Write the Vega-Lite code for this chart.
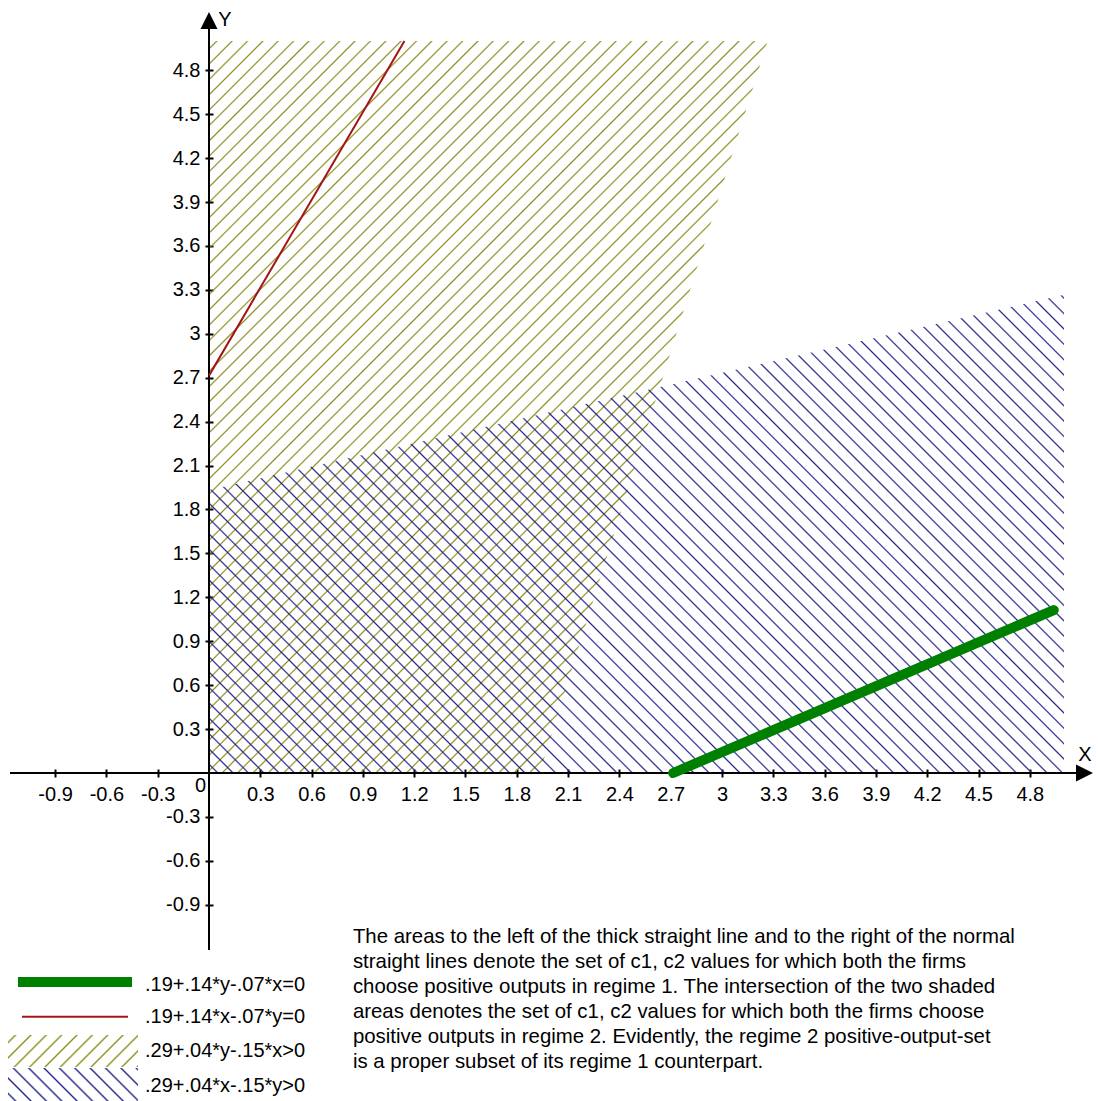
{"$schema":"https://vega.github.io/schema/vega-lite/v6.json","width":1098,"height":1101,"autosize":{"type":"none"},"padding":0,"background":"white",
"config":{"view":{"stroke":null},"font":"Liberation Sans","text":{"font":"Liberation Sans"}},
"encoding":{
"x":{"field":"x","type":"quantitative","scale":{"domain":[-1.22222,5.19883],"nice":false,"zero":false},"axis":{"orient":"bottom","offset":-332,"values":[-0.9,-0.6,-0.3,0.3,0.6,0.9,1.2,1.5,1.8,2.1,2.4,2.7,3,3.3,3.6,3.9,4.2,4.5,4.8],"labelExpr":"'' + datum.value","grid":false,"domain":false,"ticks":true,"tickSize":8,"tickWidth":2,"tickColor":"black","labelFont":"Liberation Sans","labelFontSize":20,"labelColor":"black","labelPadding":7,"labelOverlap":false,"labelFlush":false,"labelBound":false,"title":null}},
"y":{"field":"y","type":"quantitative","scale":{"domain":[-2.24044,5.28005],"nice":false,"zero":false},"axis":{"orient":"left","offset":-213,"values":[-0.9,-0.6,-0.3,0.3,0.6,0.9,1.2,1.5,1.8,2.1,2.4,2.7,3,3.3,3.6,3.9,4.2,4.5,4.8],"labelExpr":"'' + datum.value","grid":false,"domain":false,"ticks":true,"tickSize":8,"tickWidth":2,"tickColor":"black","labelFont":"Liberation Sans","labelFontSize":20,"labelColor":"black","labelPadding":5,"labelOverlap":false,"labelFlush":false,"labelBound":false,"title":null}}
},
"layer":[
{"data":{"values":[{"y":0,"x":0,"x2":1.93333},{"y":5,"x":0,"x2":3.26667}]},
"mark":{"type":"area","orient":"horizontal","opacity":1,"fill":{"gradient":"linear","x1":0,"y1":0,"x2":1.01198,"y2":1.32611,"stops":[
{"offset":0.004,"color":"#8f8f1f00"},{"offset":0.0051,"color":"#8f8f1f"},{"offset":0.0062,"color":"#8f8f1f00"},
{"offset":0.014,"color":"#8f8f1f00"},{"offset":0.0151,"color":"#8f8f1f"},{"offset":0.0162,"color":"#8f8f1f00"},
{"offset":0.024,"color":"#8f8f1f00"},{"offset":0.0251,"color":"#8f8f1f"},{"offset":0.0262,"color":"#8f8f1f00"},
{"offset":0.034,"color":"#8f8f1f00"},{"offset":0.0351,"color":"#8f8f1f"},{"offset":0.0362,"color":"#8f8f1f00"},
{"offset":0.044,"color":"#8f8f1f00"},{"offset":0.0451,"color":"#8f8f1f"},{"offset":0.0462,"color":"#8f8f1f00"},
{"offset":0.054,"color":"#8f8f1f00"},{"offset":0.0551,"color":"#8f8f1f"},{"offset":0.0562,"color":"#8f8f1f00"},
{"offset":0.064,"color":"#8f8f1f00"},{"offset":0.0651,"color":"#8f8f1f"},{"offset":0.0662,"color":"#8f8f1f00"},
{"offset":0.074,"color":"#8f8f1f00"},{"offset":0.0751,"color":"#8f8f1f"},{"offset":0.0762,"color":"#8f8f1f00"},
{"offset":0.084,"color":"#8f8f1f00"},{"offset":0.0851,"color":"#8f8f1f"},{"offset":0.0862,"color":"#8f8f1f00"},
{"offset":0.094,"color":"#8f8f1f00"},{"offset":0.0951,"color":"#8f8f1f"},{"offset":0.0962,"color":"#8f8f1f00"},
{"offset":0.104,"color":"#8f8f1f00"},{"offset":0.1051,"color":"#8f8f1f"},{"offset":0.1062,"color":"#8f8f1f00"},
{"offset":0.114,"color":"#8f8f1f00"},{"offset":0.1151,"color":"#8f8f1f"},{"offset":0.1162,"color":"#8f8f1f00"},
{"offset":0.124,"color":"#8f8f1f00"},{"offset":0.1251,"color":"#8f8f1f"},{"offset":0.1262,"color":"#8f8f1f00"},
{"offset":0.134,"color":"#8f8f1f00"},{"offset":0.1351,"color":"#8f8f1f"},{"offset":0.1362,"color":"#8f8f1f00"},
{"offset":0.144,"color":"#8f8f1f00"},{"offset":0.1451,"color":"#8f8f1f"},{"offset":0.1462,"color":"#8f8f1f00"},
{"offset":0.154,"color":"#8f8f1f00"},{"offset":0.1551,"color":"#8f8f1f"},{"offset":0.1562,"color":"#8f8f1f00"},
{"offset":0.164,"color":"#8f8f1f00"},{"offset":0.1651,"color":"#8f8f1f"},{"offset":0.1662,"color":"#8f8f1f00"},
{"offset":0.174,"color":"#8f8f1f00"},{"offset":0.1751,"color":"#8f8f1f"},{"offset":0.1762,"color":"#8f8f1f00"},
{"offset":0.184,"color":"#8f8f1f00"},{"offset":0.1851,"color":"#8f8f1f"},{"offset":0.1862,"color":"#8f8f1f00"},
{"offset":0.194,"color":"#8f8f1f00"},{"offset":0.1951,"color":"#8f8f1f"},{"offset":0.1962,"color":"#8f8f1f00"},
{"offset":0.204,"color":"#8f8f1f00"},{"offset":0.2051,"color":"#8f8f1f"},{"offset":0.2062,"color":"#8f8f1f00"},
{"offset":0.214,"color":"#8f8f1f00"},{"offset":0.2151,"color":"#8f8f1f"},{"offset":0.2162,"color":"#8f8f1f00"},
{"offset":0.224,"color":"#8f8f1f00"},{"offset":0.2251,"color":"#8f8f1f"},{"offset":0.2262,"color":"#8f8f1f00"},
{"offset":0.234,"color":"#8f8f1f00"},{"offset":0.2351,"color":"#8f8f1f"},{"offset":0.2362,"color":"#8f8f1f00"},
{"offset":0.244,"color":"#8f8f1f00"},{"offset":0.2451,"color":"#8f8f1f"},{"offset":0.2462,"color":"#8f8f1f00"},
{"offset":0.254,"color":"#8f8f1f00"},{"offset":0.2551,"color":"#8f8f1f"},{"offset":0.2562,"color":"#8f8f1f00"},
{"offset":0.264,"color":"#8f8f1f00"},{"offset":0.2651,"color":"#8f8f1f"},{"offset":0.2662,"color":"#8f8f1f00"},
{"offset":0.274,"color":"#8f8f1f00"},{"offset":0.2751,"color":"#8f8f1f"},{"offset":0.2762,"color":"#8f8f1f00"},
{"offset":0.284,"color":"#8f8f1f00"},{"offset":0.2851,"color":"#8f8f1f"},{"offset":0.2862,"color":"#8f8f1f00"},
{"offset":0.294,"color":"#8f8f1f00"},{"offset":0.2951,"color":"#8f8f1f"},{"offset":0.2962,"color":"#8f8f1f00"},
{"offset":0.304,"color":"#8f8f1f00"},{"offset":0.3051,"color":"#8f8f1f"},{"offset":0.3062,"color":"#8f8f1f00"},
{"offset":0.314,"color":"#8f8f1f00"},{"offset":0.3151,"color":"#8f8f1f"},{"offset":0.3162,"color":"#8f8f1f00"},
{"offset":0.324,"color":"#8f8f1f00"},{"offset":0.3251,"color":"#8f8f1f"},{"offset":0.3262,"color":"#8f8f1f00"},
{"offset":0.334,"color":"#8f8f1f00"},{"offset":0.3351,"color":"#8f8f1f"},{"offset":0.3362,"color":"#8f8f1f00"},
{"offset":0.344,"color":"#8f8f1f00"},{"offset":0.3451,"color":"#8f8f1f"},{"offset":0.3462,"color":"#8f8f1f00"},
{"offset":0.354,"color":"#8f8f1f00"},{"offset":0.3551,"color":"#8f8f1f"},{"offset":0.3562,"color":"#8f8f1f00"},
{"offset":0.364,"color":"#8f8f1f00"},{"offset":0.3651,"color":"#8f8f1f"},{"offset":0.3662,"color":"#8f8f1f00"},
{"offset":0.374,"color":"#8f8f1f00"},{"offset":0.3751,"color":"#8f8f1f"},{"offset":0.3762,"color":"#8f8f1f00"},
{"offset":0.384,"color":"#8f8f1f00"},{"offset":0.3851,"color":"#8f8f1f"},{"offset":0.3862,"color":"#8f8f1f00"},
{"offset":0.394,"color":"#8f8f1f00"},{"offset":0.3951,"color":"#8f8f1f"},{"offset":0.3962,"color":"#8f8f1f00"},
{"offset":0.404,"color":"#8f8f1f00"},{"offset":0.4051,"color":"#8f8f1f"},{"offset":0.4062,"color":"#8f8f1f00"},
{"offset":0.414,"color":"#8f8f1f00"},{"offset":0.4151,"color":"#8f8f1f"},{"offset":0.4162,"color":"#8f8f1f00"},
{"offset":0.424,"color":"#8f8f1f00"},{"offset":0.4251,"color":"#8f8f1f"},{"offset":0.4262,"color":"#8f8f1f00"},
{"offset":0.434,"color":"#8f8f1f00"},{"offset":0.4351,"color":"#8f8f1f"},{"offset":0.4362,"color":"#8f8f1f00"},
{"offset":0.444,"color":"#8f8f1f00"},{"offset":0.4451,"color":"#8f8f1f"},{"offset":0.4462,"color":"#8f8f1f00"},
{"offset":0.454,"color":"#8f8f1f00"},{"offset":0.4551,"color":"#8f8f1f"},{"offset":0.4562,"color":"#8f8f1f00"},
{"offset":0.464,"color":"#8f8f1f00"},{"offset":0.4651,"color":"#8f8f1f"},{"offset":0.4662,"color":"#8f8f1f00"},
{"offset":0.474,"color":"#8f8f1f00"},{"offset":0.4751,"color":"#8f8f1f"},{"offset":0.4762,"color":"#8f8f1f00"},
{"offset":0.484,"color":"#8f8f1f00"},{"offset":0.4851,"color":"#8f8f1f"},{"offset":0.4862,"color":"#8f8f1f00"},
{"offset":0.494,"color":"#8f8f1f00"},{"offset":0.4951,"color":"#8f8f1f"},{"offset":0.4962,"color":"#8f8f1f00"},
{"offset":0.504,"color":"#8f8f1f00"},{"offset":0.5051,"color":"#8f8f1f"},{"offset":0.5062,"color":"#8f8f1f00"},
{"offset":0.514,"color":"#8f8f1f00"},{"offset":0.5151,"color":"#8f8f1f"},{"offset":0.5162,"color":"#8f8f1f00"},
{"offset":0.524,"color":"#8f8f1f00"},{"offset":0.5251,"color":"#8f8f1f"},{"offset":0.5262,"color":"#8f8f1f00"},
{"offset":0.534,"color":"#8f8f1f00"},{"offset":0.5351,"color":"#8f8f1f"},{"offset":0.5362,"color":"#8f8f1f00"},
{"offset":0.544,"color":"#8f8f1f00"},{"offset":0.5451,"color":"#8f8f1f"},{"offset":0.5462,"color":"#8f8f1f00"},
{"offset":0.554,"color":"#8f8f1f00"},{"offset":0.5551,"color":"#8f8f1f"},{"offset":0.5562,"color":"#8f8f1f00"},
{"offset":0.564,"color":"#8f8f1f00"},{"offset":0.5651,"color":"#8f8f1f"},{"offset":0.5662,"color":"#8f8f1f00"},
{"offset":0.574,"color":"#8f8f1f00"},{"offset":0.5751,"color":"#8f8f1f"},{"offset":0.5762,"color":"#8f8f1f00"},
{"offset":0.584,"color":"#8f8f1f00"},{"offset":0.5851,"color":"#8f8f1f"},{"offset":0.5862,"color":"#8f8f1f00"},
{"offset":0.594,"color":"#8f8f1f00"},{"offset":0.5951,"color":"#8f8f1f"},{"offset":0.5962,"color":"#8f8f1f00"},
{"offset":0.604,"color":"#8f8f1f00"},{"offset":0.6051,"color":"#8f8f1f"},{"offset":0.6062,"color":"#8f8f1f00"},
{"offset":0.614,"color":"#8f8f1f00"},{"offset":0.6151,"color":"#8f8f1f"},{"offset":0.6162,"color":"#8f8f1f00"},
{"offset":0.624,"color":"#8f8f1f00"},{"offset":0.6251,"color":"#8f8f1f"},{"offset":0.6262,"color":"#8f8f1f00"},
{"offset":0.634,"color":"#8f8f1f00"},{"offset":0.6351,"color":"#8f8f1f"},{"offset":0.6362,"color":"#8f8f1f00"},
{"offset":0.644,"color":"#8f8f1f00"},{"offset":0.6451,"color":"#8f8f1f"},{"offset":0.6462,"color":"#8f8f1f00"},
{"offset":0.654,"color":"#8f8f1f00"},{"offset":0.6551,"color":"#8f8f1f"},{"offset":0.6562,"color":"#8f8f1f00"},
{"offset":0.664,"color":"#8f8f1f00"},{"offset":0.6651,"color":"#8f8f1f"},{"offset":0.6662,"color":"#8f8f1f00"},
{"offset":0.674,"color":"#8f8f1f00"},{"offset":0.6751,"color":"#8f8f1f"},{"offset":0.6762,"color":"#8f8f1f00"},
{"offset":0.684,"color":"#8f8f1f00"},{"offset":0.6851,"color":"#8f8f1f"},{"offset":0.6862,"color":"#8f8f1f00"},
{"offset":0.694,"color":"#8f8f1f00"},{"offset":0.6951,"color":"#8f8f1f"},{"offset":0.6962,"color":"#8f8f1f00"},
{"offset":0.704,"color":"#8f8f1f00"},{"offset":0.7051,"color":"#8f8f1f"},{"offset":0.7062,"color":"#8f8f1f00"},
{"offset":0.714,"color":"#8f8f1f00"},{"offset":0.7151,"color":"#8f8f1f"},{"offset":0.7162,"color":"#8f8f1f00"},
{"offset":0.724,"color":"#8f8f1f00"},{"offset":0.7251,"color":"#8f8f1f"},{"offset":0.7262,"color":"#8f8f1f00"},
{"offset":0.734,"color":"#8f8f1f00"},{"offset":0.7351,"color":"#8f8f1f"},{"offset":0.7362,"color":"#8f8f1f00"},
{"offset":0.744,"color":"#8f8f1f00"},{"offset":0.7451,"color":"#8f8f1f"},{"offset":0.7462,"color":"#8f8f1f00"},
{"offset":0.754,"color":"#8f8f1f00"},{"offset":0.7551,"color":"#8f8f1f"},{"offset":0.7562,"color":"#8f8f1f00"},
{"offset":0.764,"color":"#8f8f1f00"},{"offset":0.7651,"color":"#8f8f1f"},{"offset":0.7662,"color":"#8f8f1f00"},
{"offset":0.774,"color":"#8f8f1f00"},{"offset":0.7751,"color":"#8f8f1f"},{"offset":0.7762,"color":"#8f8f1f00"},
{"offset":0.784,"color":"#8f8f1f00"},{"offset":0.7851,"color":"#8f8f1f"},{"offset":0.7862,"color":"#8f8f1f00"},
{"offset":0.794,"color":"#8f8f1f00"},{"offset":0.7951,"color":"#8f8f1f"},{"offset":0.7962,"color":"#8f8f1f00"},
{"offset":0.804,"color":"#8f8f1f00"},{"offset":0.8051,"color":"#8f8f1f"},{"offset":0.8062,"color":"#8f8f1f00"},
{"offset":0.814,"color":"#8f8f1f00"},{"offset":0.8151,"color":"#8f8f1f"},{"offset":0.8162,"color":"#8f8f1f00"},
{"offset":0.824,"color":"#8f8f1f00"},{"offset":0.8251,"color":"#8f8f1f"},{"offset":0.8262,"color":"#8f8f1f00"},
{"offset":0.834,"color":"#8f8f1f00"},{"offset":0.8351,"color":"#8f8f1f"},{"offset":0.8362,"color":"#8f8f1f00"}
]}},
"encoding":{"x2":{"field":"x2"}}},
{"data":{"values":[{"x":0,"y":0,"y2":1.93333},{"x":5,"y":0,"y2":3.26667}]},
"mark":{"type":"area","orient":"vertical","opacity":1,"fill":{"gradient":"linear","x1":0,"y1":1,"x2":1.36838,"y2":0.2346,"stops":[
{"offset":0.0046,"color":"#25258f00"},{"offset":0.0057,"color":"#25258f"},{"offset":0.0068,"color":"#25258f00"},
{"offset":0.0146,"color":"#25258f00"},{"offset":0.0157,"color":"#25258f"},{"offset":0.0168,"color":"#25258f00"},
{"offset":0.0246,"color":"#25258f00"},{"offset":0.0257,"color":"#25258f"},{"offset":0.0268,"color":"#25258f00"},
{"offset":0.0346,"color":"#25258f00"},{"offset":0.0357,"color":"#25258f"},{"offset":0.0368,"color":"#25258f00"},
{"offset":0.0446,"color":"#25258f00"},{"offset":0.0457,"color":"#25258f"},{"offset":0.0468,"color":"#25258f00"},
{"offset":0.0546,"color":"#25258f00"},{"offset":0.0557,"color":"#25258f"},{"offset":0.0568,"color":"#25258f00"},
{"offset":0.0646,"color":"#25258f00"},{"offset":0.0657,"color":"#25258f"},{"offset":0.0668,"color":"#25258f00"},
{"offset":0.0746,"color":"#25258f00"},{"offset":0.0757,"color":"#25258f"},{"offset":0.0768,"color":"#25258f00"},
{"offset":0.0846,"color":"#25258f00"},{"offset":0.0857,"color":"#25258f"},{"offset":0.0868,"color":"#25258f00"},
{"offset":0.0946,"color":"#25258f00"},{"offset":0.0957,"color":"#25258f"},{"offset":0.0968,"color":"#25258f00"},
{"offset":0.1046,"color":"#25258f00"},{"offset":0.1057,"color":"#25258f"},{"offset":0.1068,"color":"#25258f00"},
{"offset":0.1146,"color":"#25258f00"},{"offset":0.1157,"color":"#25258f"},{"offset":0.1168,"color":"#25258f00"},
{"offset":0.1246,"color":"#25258f00"},{"offset":0.1257,"color":"#25258f"},{"offset":0.1268,"color":"#25258f00"},
{"offset":0.1346,"color":"#25258f00"},{"offset":0.1357,"color":"#25258f"},{"offset":0.1368,"color":"#25258f00"},
{"offset":0.1446,"color":"#25258f00"},{"offset":0.1457,"color":"#25258f"},{"offset":0.1468,"color":"#25258f00"},
{"offset":0.1546,"color":"#25258f00"},{"offset":0.1557,"color":"#25258f"},{"offset":0.1568,"color":"#25258f00"},
{"offset":0.1646,"color":"#25258f00"},{"offset":0.1657,"color":"#25258f"},{"offset":0.1668,"color":"#25258f00"},
{"offset":0.1746,"color":"#25258f00"},{"offset":0.1757,"color":"#25258f"},{"offset":0.1768,"color":"#25258f00"},
{"offset":0.1846,"color":"#25258f00"},{"offset":0.1857,"color":"#25258f"},{"offset":0.1868,"color":"#25258f00"},
{"offset":0.1946,"color":"#25258f00"},{"offset":0.1957,"color":"#25258f"},{"offset":0.1968,"color":"#25258f00"},
{"offset":0.2046,"color":"#25258f00"},{"offset":0.2057,"color":"#25258f"},{"offset":0.2068,"color":"#25258f00"},
{"offset":0.2146,"color":"#25258f00"},{"offset":0.2157,"color":"#25258f"},{"offset":0.2168,"color":"#25258f00"},
{"offset":0.2246,"color":"#25258f00"},{"offset":0.2257,"color":"#25258f"},{"offset":0.2268,"color":"#25258f00"},
{"offset":0.2346,"color":"#25258f00"},{"offset":0.2357,"color":"#25258f"},{"offset":0.2368,"color":"#25258f00"},
{"offset":0.2446,"color":"#25258f00"},{"offset":0.2457,"color":"#25258f"},{"offset":0.2468,"color":"#25258f00"},
{"offset":0.2546,"color":"#25258f00"},{"offset":0.2557,"color":"#25258f"},{"offset":0.2568,"color":"#25258f00"},
{"offset":0.2646,"color":"#25258f00"},{"offset":0.2657,"color":"#25258f"},{"offset":0.2668,"color":"#25258f00"},
{"offset":0.2746,"color":"#25258f00"},{"offset":0.2757,"color":"#25258f"},{"offset":0.2768,"color":"#25258f00"},
{"offset":0.2846,"color":"#25258f00"},{"offset":0.2857,"color":"#25258f"},{"offset":0.2868,"color":"#25258f00"},
{"offset":0.2946,"color":"#25258f00"},{"offset":0.2957,"color":"#25258f"},{"offset":0.2968,"color":"#25258f00"},
{"offset":0.3046,"color":"#25258f00"},{"offset":0.3057,"color":"#25258f"},{"offset":0.3068,"color":"#25258f00"},
{"offset":0.3146,"color":"#25258f00"},{"offset":0.3157,"color":"#25258f"},{"offset":0.3168,"color":"#25258f00"},
{"offset":0.3246,"color":"#25258f00"},{"offset":0.3257,"color":"#25258f"},{"offset":0.3268,"color":"#25258f00"},
{"offset":0.3346,"color":"#25258f00"},{"offset":0.3357,"color":"#25258f"},{"offset":0.3368,"color":"#25258f00"},
{"offset":0.3446,"color":"#25258f00"},{"offset":0.3457,"color":"#25258f"},{"offset":0.3468,"color":"#25258f00"},
{"offset":0.3546,"color":"#25258f00"},{"offset":0.3557,"color":"#25258f"},{"offset":0.3568,"color":"#25258f00"},
{"offset":0.3646,"color":"#25258f00"},{"offset":0.3657,"color":"#25258f"},{"offset":0.3668,"color":"#25258f00"},
{"offset":0.3746,"color":"#25258f00"},{"offset":0.3757,"color":"#25258f"},{"offset":0.3768,"color":"#25258f00"},
{"offset":0.3846,"color":"#25258f00"},{"offset":0.3857,"color":"#25258f"},{"offset":0.3868,"color":"#25258f00"},
{"offset":0.3946,"color":"#25258f00"},{"offset":0.3957,"color":"#25258f"},{"offset":0.3968,"color":"#25258f00"},
{"offset":0.4046,"color":"#25258f00"},{"offset":0.4057,"color":"#25258f"},{"offset":0.4068,"color":"#25258f00"},
{"offset":0.4146,"color":"#25258f00"},{"offset":0.4157,"color":"#25258f"},{"offset":0.4168,"color":"#25258f00"},
{"offset":0.4246,"color":"#25258f00"},{"offset":0.4257,"color":"#25258f"},{"offset":0.4268,"color":"#25258f00"},
{"offset":0.4346,"color":"#25258f00"},{"offset":0.4357,"color":"#25258f"},{"offset":0.4368,"color":"#25258f00"},
{"offset":0.4446,"color":"#25258f00"},{"offset":0.4457,"color":"#25258f"},{"offset":0.4468,"color":"#25258f00"},
{"offset":0.4546,"color":"#25258f00"},{"offset":0.4557,"color":"#25258f"},{"offset":0.4568,"color":"#25258f00"},
{"offset":0.4646,"color":"#25258f00"},{"offset":0.4657,"color":"#25258f"},{"offset":0.4668,"color":"#25258f00"},
{"offset":0.4746,"color":"#25258f00"},{"offset":0.4757,"color":"#25258f"},{"offset":0.4768,"color":"#25258f00"},
{"offset":0.4846,"color":"#25258f00"},{"offset":0.4857,"color":"#25258f"},{"offset":0.4868,"color":"#25258f00"},
{"offset":0.4946,"color":"#25258f00"},{"offset":0.4957,"color":"#25258f"},{"offset":0.4968,"color":"#25258f00"},
{"offset":0.5046,"color":"#25258f00"},{"offset":0.5057,"color":"#25258f"},{"offset":0.5068,"color":"#25258f00"},
{"offset":0.5146,"color":"#25258f00"},{"offset":0.5157,"color":"#25258f"},{"offset":0.5168,"color":"#25258f00"},
{"offset":0.5246,"color":"#25258f00"},{"offset":0.5257,"color":"#25258f"},{"offset":0.5268,"color":"#25258f00"},
{"offset":0.5346,"color":"#25258f00"},{"offset":0.5357,"color":"#25258f"},{"offset":0.5368,"color":"#25258f00"},
{"offset":0.5446,"color":"#25258f00"},{"offset":0.5457,"color":"#25258f"},{"offset":0.5468,"color":"#25258f00"},
{"offset":0.5546,"color":"#25258f00"},{"offset":0.5557,"color":"#25258f"},{"offset":0.5568,"color":"#25258f00"},
{"offset":0.5646,"color":"#25258f00"},{"offset":0.5657,"color":"#25258f"},{"offset":0.5668,"color":"#25258f00"},
{"offset":0.5746,"color":"#25258f00"},{"offset":0.5757,"color":"#25258f"},{"offset":0.5768,"color":"#25258f00"},
{"offset":0.5846,"color":"#25258f00"},{"offset":0.5857,"color":"#25258f"},{"offset":0.5868,"color":"#25258f00"},
{"offset":0.5946,"color":"#25258f00"},{"offset":0.5957,"color":"#25258f"},{"offset":0.5968,"color":"#25258f00"},
{"offset":0.6046,"color":"#25258f00"},{"offset":0.6057,"color":"#25258f"},{"offset":0.6068,"color":"#25258f00"},
{"offset":0.6146,"color":"#25258f00"},{"offset":0.6157,"color":"#25258f"},{"offset":0.6168,"color":"#25258f00"},
{"offset":0.6246,"color":"#25258f00"},{"offset":0.6257,"color":"#25258f"},{"offset":0.6268,"color":"#25258f00"},
{"offset":0.6346,"color":"#25258f00"},{"offset":0.6357,"color":"#25258f"},{"offset":0.6368,"color":"#25258f00"},
{"offset":0.6446,"color":"#25258f00"},{"offset":0.6457,"color":"#25258f"},{"offset":0.6468,"color":"#25258f00"},
{"offset":0.6546,"color":"#25258f00"},{"offset":0.6557,"color":"#25258f"},{"offset":0.6568,"color":"#25258f00"},
{"offset":0.6646,"color":"#25258f00"},{"offset":0.6657,"color":"#25258f"},{"offset":0.6668,"color":"#25258f00"},
{"offset":0.6746,"color":"#25258f00"},{"offset":0.6757,"color":"#25258f"},{"offset":0.6768,"color":"#25258f00"},
{"offset":0.6846,"color":"#25258f00"},{"offset":0.6857,"color":"#25258f"},{"offset":0.6868,"color":"#25258f00"},
{"offset":0.6946,"color":"#25258f00"},{"offset":0.6957,"color":"#25258f"},{"offset":0.6968,"color":"#25258f00"},
{"offset":0.7046,"color":"#25258f00"},{"offset":0.7057,"color":"#25258f"},{"offset":0.7068,"color":"#25258f00"},
{"offset":0.7146,"color":"#25258f00"},{"offset":0.7157,"color":"#25258f"},{"offset":0.7168,"color":"#25258f00"},
{"offset":0.7246,"color":"#25258f00"},{"offset":0.7257,"color":"#25258f"},{"offset":0.7268,"color":"#25258f00"},
{"offset":0.7346,"color":"#25258f00"},{"offset":0.7357,"color":"#25258f"},{"offset":0.7368,"color":"#25258f00"},
{"offset":0.7446,"color":"#25258f00"},{"offset":0.7457,"color":"#25258f"},{"offset":0.7468,"color":"#25258f00"},
{"offset":0.7546,"color":"#25258f00"},{"offset":0.7557,"color":"#25258f"},{"offset":0.7568,"color":"#25258f00"},
{"offset":0.7646,"color":"#25258f00"},{"offset":0.7657,"color":"#25258f"},{"offset":0.7668,"color":"#25258f00"},
{"offset":0.7746,"color":"#25258f00"},{"offset":0.7757,"color":"#25258f"},{"offset":0.7768,"color":"#25258f00"},
{"offset":0.7846,"color":"#25258f00"},{"offset":0.7857,"color":"#25258f"},{"offset":0.7868,"color":"#25258f00"},
{"offset":0.7946,"color":"#25258f00"},{"offset":0.7957,"color":"#25258f"},{"offset":0.7968,"color":"#25258f00"},
{"offset":0.8046,"color":"#25258f00"},{"offset":0.8057,"color":"#25258f"},{"offset":0.8068,"color":"#25258f00"},
{"offset":0.8146,"color":"#25258f00"},{"offset":0.8157,"color":"#25258f"},{"offset":0.8168,"color":"#25258f00"},
{"offset":0.8246,"color":"#25258f00"},{"offset":0.8257,"color":"#25258f"},{"offset":0.8268,"color":"#25258f00"},
{"offset":0.8346,"color":"#25258f00"},{"offset":0.8357,"color":"#25258f"},{"offset":0.8368,"color":"#25258f00"},
{"offset":0.8446,"color":"#25258f00"},{"offset":0.8457,"color":"#25258f"},{"offset":0.8468,"color":"#25258f00"},
{"offset":0.8546,"color":"#25258f00"},{"offset":0.8557,"color":"#25258f"},{"offset":0.8568,"color":"#25258f00"},
{"offset":0.8646,"color":"#25258f00"},{"offset":0.8657,"color":"#25258f"},{"offset":0.8668,"color":"#25258f00"}
]}},
"encoding":{"y2":{"field":"y2"}}},
{"data":{"values":[{"x":-1.1637,"x2":5.07,"y":0,"y2":0},{"x":0,"x2":0,"y":-1.209,"y2":5.09}]},
"mark":{"type":"rule","color":"black","strokeWidth":2},"encoding":{"x2":{"field":"x2"},"y2":{"field":"y2"}}},
{"data":{"values":[{"x":0,"y":2.71429},{"x":1.14286,"y":5}]},"mark":{"type":"line","color":"#a31515","strokeWidth":2},"encoding":{}},
{"data":{"values":[{"x":2.71429,"y":0},{"x":4.94,"y":1.11286}]},"mark":{"type":"line","color":"#008000","strokeWidth":10,"strokeCap":"round"},"encoding":{}},
{"data":{"values":[{"x":0,"y":5.14}]},"mark":{"type":"point","shape":"M0,-1L1,1L-1,1Z","size":289,"filled":true,"color":"black","opacity":1},"encoding":{}},
{"data":{"values":[{"x":5.1199,"y":0}]},"mark":{"type":"point","shape":"M1,0L-1,-1L-1,1Z","size":289,"filled":true,"color":"black","opacity":1},"encoding":{}},
{"data":{"values":[{"x":0.0936,"y":5.1434,"label":"Y"},{"x":5.1228,"y":0.123,"label":"X"},{"x":-0.0497,"y":-0.0888,"label":"0"}]},
"mark":{"type":"text","fontSize":20,"align":"center","baseline":"middle","color":"black"},"encoding":{"text":{"field":"label"}}},
{"data":{"values":[{"x":-1.117,"x2":-0.4503,"y":-1.4276}]},"mark":{"type":"rule","color":"#008000","strokeWidth":10},"encoding":{"x2":{"field":"x2"}}},
{"data":{"values":[{"x":-1.0936,"x2":-0.4737,"y":-1.6646}]},"mark":{"type":"rule","color":"#a31515","strokeWidth":2},"encoding":{"x2":{"field":"x2"}}},
{"data":{"values":[{"x":-1.17544,"x2":-0.4152,"y":-1.78962,"y2":-2.0082}]},
"mark":{"type":"rect","opacity":1,"fill":{"gradient":"linear","x1":0,"y1":0,"x2":1.22545,"y2":0.30165,"stops":[
{"offset":0.0332,"color":"#8f8f1f00"},{"offset":0.045,"color":"#8f8f1f"},{"offset":0.0568,"color":"#8f8f1f00"},
{"offset":0.1241,"color":"#8f8f1f00"},{"offset":0.1359,"color":"#8f8f1f"},{"offset":0.1477,"color":"#8f8f1f00"},
{"offset":0.215,"color":"#8f8f1f00"},{"offset":0.2268,"color":"#8f8f1f"},{"offset":0.2386,"color":"#8f8f1f00"},
{"offset":0.3059,"color":"#8f8f1f00"},{"offset":0.3177,"color":"#8f8f1f"},{"offset":0.3295,"color":"#8f8f1f00"},
{"offset":0.3968,"color":"#8f8f1f00"},{"offset":0.4086,"color":"#8f8f1f"},{"offset":0.4204,"color":"#8f8f1f00"},
{"offset":0.4877,"color":"#8f8f1f00"},{"offset":0.4995,"color":"#8f8f1f"},{"offset":0.5113,"color":"#8f8f1f00"},
{"offset":0.5787,"color":"#8f8f1f00"},{"offset":0.5905,"color":"#8f8f1f"},{"offset":0.6023,"color":"#8f8f1f00"},
{"offset":0.6696,"color":"#8f8f1f00"},{"offset":0.6814,"color":"#8f8f1f"},{"offset":0.6932,"color":"#8f8f1f00"},
{"offset":0.7605,"color":"#8f8f1f00"},{"offset":0.7723,"color":"#8f8f1f"},{"offset":0.7841,"color":"#8f8f1f00"},
{"offset":0.8514,"color":"#8f8f1f00"},{"offset":0.8632,"color":"#8f8f1f"},{"offset":0.875,"color":"#8f8f1f00"},
{"offset":0.9423,"color":"#8f8f1f00"},{"offset":0.9541,"color":"#8f8f1f"},{"offset":0.9659,"color":"#8f8f1f00"}
]}},"encoding":{"x2":{"field":"x2"},"y2":{"field":"y2"}}},
{"data":{"values":[{"x":-1.17544,"x2":-0.4152,"y":-2.01503,"y2":-2.24044}]},
"mark":{"type":"rect","opacity":1,"fill":{"gradient":"linear","x1":0,"y1":1,"x2":1.22101,"y2":0.69005,"stops":[
{"offset":0.0332,"color":"#25258f00"},{"offset":0.045,"color":"#25258f"},{"offset":0.0568,"color":"#25258f00"},
{"offset":0.1241,"color":"#25258f00"},{"offset":0.1359,"color":"#25258f"},{"offset":0.1477,"color":"#25258f00"},
{"offset":0.215,"color":"#25258f00"},{"offset":0.2268,"color":"#25258f"},{"offset":0.2386,"color":"#25258f00"},
{"offset":0.3059,"color":"#25258f00"},{"offset":0.3177,"color":"#25258f"},{"offset":0.3295,"color":"#25258f00"},
{"offset":0.3968,"color":"#25258f00"},{"offset":0.4086,"color":"#25258f"},{"offset":0.4204,"color":"#25258f00"},
{"offset":0.4877,"color":"#25258f00"},{"offset":0.4995,"color":"#25258f"},{"offset":0.5113,"color":"#25258f00"},
{"offset":0.5787,"color":"#25258f00"},{"offset":0.5905,"color":"#25258f"},{"offset":0.6023,"color":"#25258f00"},
{"offset":0.6696,"color":"#25258f00"},{"offset":0.6814,"color":"#25258f"},{"offset":0.6932,"color":"#25258f00"},
{"offset":0.7605,"color":"#25258f00"},{"offset":0.7723,"color":"#25258f"},{"offset":0.7841,"color":"#25258f00"},
{"offset":0.8514,"color":"#25258f00"},{"offset":0.8632,"color":"#25258f"},{"offset":0.875,"color":"#25258f00"},
{"offset":0.9423,"color":"#25258f00"},{"offset":0.9541,"color":"#25258f"},{"offset":0.9659,"color":"#25258f00"}
]}},"encoding":{"x2":{"field":"x2"},"y2":{"field":"y2"}}},
{"data":{"values":[{"x":-0.3743,"y":-1.4447,"label":".19+.14*y-.07*x=0"},{"x":-0.3743,"y":-1.6633,"label":".19+.14*x-.07*y=0"},{"x":-0.3743,"y":-1.8955,"label":".29+.04*y-.15*x>0"},{"x":-0.3743,"y":-2.1346,"label":".29+.04*x-.15*y>0"}]},
"mark":{"type":"text","fontSize":20,"align":"left","baseline":"middle","color":"black"},"encoding":{"text":{"field":"label"}}},
{"data":{"values":[{"x":0.8415,"y":-1.1633,"label":"The areas to the left of the thick straight line and to the right of the normal\nstraight lines denote the set of c1, c2 values for which both the firms\nchoose positive outputs in regime 1. The intersection of the two shaded\nareas denotes the set of c1, c2 values for which both the firms choose\npositive outputs in regime 2. Evidently, the regime 2 positive-output-set\nis a proper subset of its regime 1 counterpart."}]},
"mark":{"type":"text","fontSize":20.4,"align":"left","baseline":"alphabetic","lineHeight":25,"lineBreak":"\n","color":"black"},"encoding":{"text":{"field":"label"}}}
]}
